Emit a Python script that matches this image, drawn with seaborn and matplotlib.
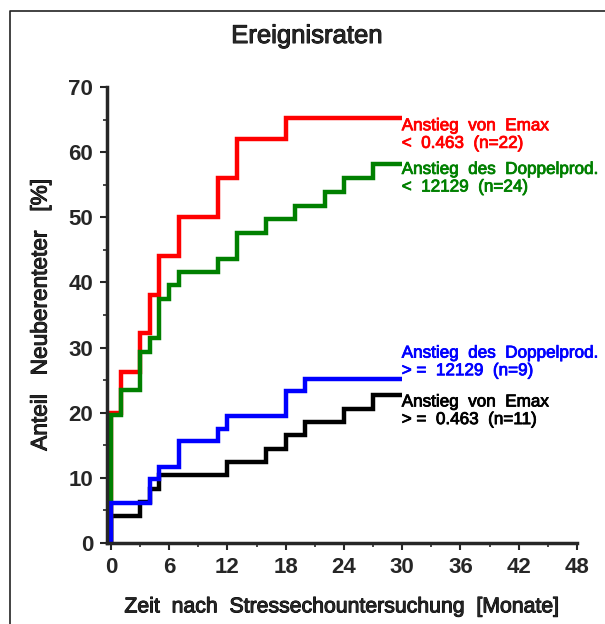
import pandas as pd
import numpy as np
import matplotlib
matplotlib.use("Agg")
import matplotlib.pyplot as plt
import matplotlib.patheffects as pe
from matplotlib.lines import Line2D
from matplotlib.ticker import MultipleLocator
import seaborn as sns

# Kaplan-Meier Ereignisraten
red_t = [0, 0, 1, 3, 4, 5, 7, 11, 13, 18, 30]
red_v = [0, 20.0, 26.3, 32.2, 38.1, 44.1, 50.1, 56.0, 62.0, 65.2, 65.2]

green_t = [0, 0, 1, 3, 4, 5, 6, 7, 11, 13, 16, 19, 22, 24, 27, 30]
green_v = [0, 19.7, 23.5, 29.3, 31.5, 37.5, 39.6, 41.6, 43.6, 47.6, 49.8, 51.8, 53.9, 56.1, 58.2, 58.2]

blue_t = [0, 0, 4, 5, 7, 11, 12, 18, 20, 30]
blue_v = [0, 6.1, 9.8, 11.7, 15.7, 17.5, 19.5, 23.3, 25.2, 25.2]

black_t = [0, 0, 3, 4, 5, 12, 16, 18, 20, 24, 27, 30]
black_v = [0, 4.1, 6.3, 8.3, 10.4, 12.4, 14.4, 16.6, 18.6, 20.6, 22.7, 22.7]

groups = ['emax_ge', 'emax_lt', 'dp_lt', 'dp_ge']
labels = {
    'emax_lt': 'Anstieg  von  Emax\n<  0.463  (n=22)',
    'dp_lt': 'Anstieg  des  Doppelprod.\n<  12129  (n=24)',
    'dp_ge': 'Anstieg  des  Doppelprod.\n> =  12129  (n=9)',
    'emax_ge': 'Anstieg  von  Emax\n> =  0.463  (n=11)',
}
colors = {'emax_lt': '#ff0000', 'dp_lt': '#008000', 'dp_ge': '#0000ff', 'emax_ge': '#000000'}

df = pd.concat([
    pd.DataFrame({'t': red_t, 'v': red_v, 'grp': 'emax_lt'}),
    pd.DataFrame({'t': green_t, 'v': green_v, 'grp': 'dp_lt'}),
    pd.DataFrame({'t': blue_t, 'v': blue_v, 'grp': 'dp_ge'}),
    pd.DataFrame({'t': black_t, 'v': black_v, 'grp': 'emax_ge'}),
], ignore_index=True)

sns.set_style('ticks')
plt.rcParams['font.family'] = ['Liberation Sans', 'DejaVu Sans']


def heavy(c, w=0.7):
    # etwas kraeftigere Schrift wie im Original
    return [pe.withStroke(linewidth=w, foreground=c)]


fig = plt.figure(figsize=(6.05, 6.24), dpi=100)
ax = fig.add_axes([107 / 605, 1 - 543 / 624, 470 / 605, 456 / 624])

sns.lineplot(data=df, x='t', y='v', hue='grp', hue_order=groups, palette=colors,
             estimator=None, sort=False, drawstyle='steps-post', lw=3.2,
             solid_joinstyle='miter', solid_capstyle='butt', legend=False, ax=ax)

# Beschriftung am Kurvenende
label_y = {'emax_lt': 62.7, 'dp_lt': 56.0, 'dp_ge': 27.8, 'emax_ge': 20.3}
for g in groups:
    ax.text(29.95, label_y[g], labels[g], color=colors[g], fontsize=12.3,
            va='center', ha='left', linespacing=1.22, path_effects=heavy(colors[g], 0.6))

ax.set_xlim(-0.4, 48)
ax.set_ylim(0, 70)
ax.xaxis.set_major_locator(MultipleLocator(6))
ax.xaxis.set_minor_locator(MultipleLocator(3))
ax.yaxis.set_major_locator(MultipleLocator(10))
ax.yaxis.set_minor_locator(MultipleLocator(5))
ax.tick_params(which='major', length=5, width=1.5, pad=5, labelsize=16)
ax.tick_params(which='minor', length=3, width=1.2)
for lab in ax.get_xticklabels() + ax.get_yticklabels():
    lab.set_fontweight('bold')

sns.despine(ax=ax)
for s in ['left', 'bottom']:
    ax.spines[s].set_linewidth(2.5)

ax.set_xlabel('Zeit  nach  Stressechountersuchung  [Monate]', fontsize=15.3, labelpad=14,
              path_effects=heavy('black'))
ax.set_ylabel('Anteil   Neuberenteter   [%]', fontsize=16.3, labelpad=12,
              path_effects=heavy('black'))
fig.text(307 / 605, 1 - 36 / 624, 'Ereignisraten', fontsize=18.5, ha='center', va='center',
         path_effects=heavy('black'))

# Rahmen oben und links
fig.add_artist(Line2D([10 / 605, 10 / 605, 1], [0, 1 - 11 / 624, 1 - 11 / 624],
                      transform=fig.transFigure, color='#222222', lw=1.2))

fig.savefig('out.png', dpi=100)
